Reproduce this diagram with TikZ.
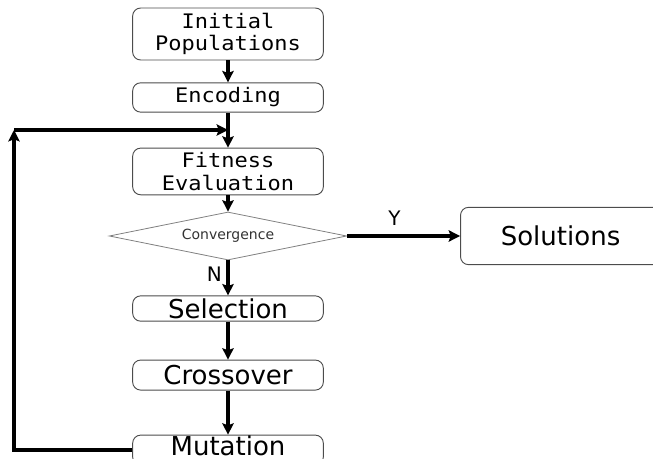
\documentclass[tikz,border=0pt]{standalone}
\usepackage{fontspec}
\setmainfont{DejaVu Sans}
\newfontfamily\monofont[FakeStretch=1.1]{DejaVu Sans Mono}
\usetikzlibrary{arrows.meta,shapes.geometric}

\begin{document}
\begin{tikzpicture}[x=0.75pt,y=-0.75pt,>={Stealth[length=8.5pt,width=8.5pt,inset=1.5pt]},
                    box/.style={draw=black!70,line width=0.7pt,rounded corners=6pt,minimum width=143pt,inner sep=0pt,align=center},
                    monobox/.style={box,font=\monofont\fontsize{15}{17}\selectfont},
                    sansbox/.style={box,font=\fontsize{19.5}{21}\selectfont},
                    flow/.style={->,line width=2.7pt},
                    answer/.style={font=\fontsize{15}{16}\selectfont}]
                    \useasboundingbox (0,0) rectangle (653,459);

                    \node[monobox,minimum height=39pt] (init) at (228,34) {Initial\\Populations};
                    \node[monobox,minimum height=22pt,node distance=47.6pt] (enc) [below of = init] {Encoding};
                    \node[monobox,minimum height=35pt,node distance=55.5pt] (fit) [below of = enc] {Fitness\\Evaluation};
                    \node[diamond,draw=black!50,line width=0.6pt,aspect=5,minimum width=178pt,minimum height=36pt,inner sep=0pt,
                          text=black!80,font=\fontsize{10.5}{12}\selectfont,node distance=48.4pt] (conv) [below of = fit] {Convergence};
                    \node[sansbox,minimum height=19pt,node distance=54.4pt] (sel) [below of = conv] {Selection};
                    \node[sansbox,minimum height=22.5pt,node distance=49.9pt] (cross) [below of = sel] {Crossover};
                    \node[sansbox,minimum height=22.5pt,text depth=7pt,node distance=56.3pt] (mut) [below of = cross] {Mutation};
                    \node[sansbox,minimum height=43pt,minimum width=150pt,node distance=249.4pt] (sol) [right of = conv] {Solutions};

                    \coordinate (corner) at (14,130);
                    \coordinate (join) at (228,130);

                    \draw [flow] (init) -- (enc);
                    \draw [flow] (enc) -- (fit);
                    \draw [flow] (fit) -- (conv);
                    \draw [flow] (conv) -- node[left,answer,pos=0.4] {N} (sel);
                    \draw [flow] (sel) -- (cross);
                    \draw [flow] (cross) -- (mut);
                    \draw [flow] (conv) -- node[above,answer,pos=0.42,yshift=3pt] {Y} (sol);

                    \draw [flow] (mut.west) -| (corner);
                    \draw [flow] (corner) -- (join);
\end{tikzpicture}
\end{document}
